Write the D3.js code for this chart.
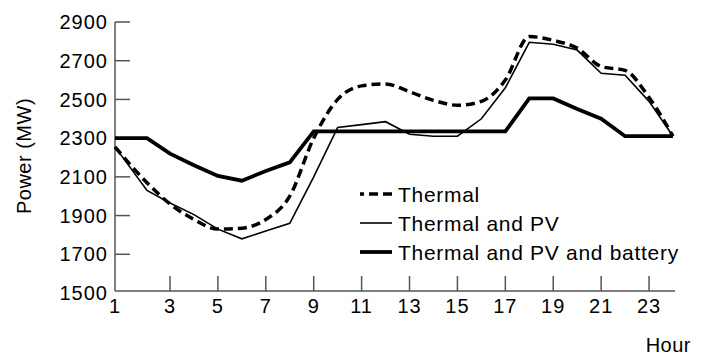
<!DOCTYPE html>
<html>
<head>
<meta charset="utf-8">
<script src="https://cdn.jsdelivr.net/npm/d3@7"></script>
<style>
  body { margin: 0; background: #fff; }
  svg { display: block; font-family: "Liberation Sans", Arial, sans-serif; }
</style>
</head>
<body>
<svg id="chart" width="706" height="358"></svg>
<script>
// Hourly power (MW)
var hours = d3.range(1, 25);
var thermal = [2255, 2070, 1960, 1880, 1830, 1835, 1880, 2000, 2300, 2500, 2570, 2580,
               2540, 2495, 2470, 2490, 2600, 2825, 2805, 2765, 2670, 2650, 2510, 2310];
var thermalPV = [2255, 2030, 1965, 1905, 1830, 1780, 1820, 1860, 2100, 2355, 2370, 2385,
                 2320, 2310, 2310, 2400, 2560, 2795, 2785, 2755, 2635, 2625, 2490, 2310];
var thermalPVBattery = [2300, 2300, 2220, 2160, 2105, 2080, 2130, 2175, 2335, 2335, 2335, 2335,
                        2335, 2335, 2335, 2335, 2335, 2505, 2505, 2450, 2400, 2310, 2310, 2310];
var xTickLabels = [1, 3, 5, 7, 9, 11, 13, 15, 17, 19, 21, 23];
var yTickLabels = [1500, 1700, 1900, 2100, 2300, 2500, 2700, 2900];
var seriesNames = ["Thermal", "Thermal and PV", "Thermal and PV and battery"];

var svg = d3.select("#chart");
var axisY = 291; // where the hour axis sits

var x = d3.scaleLinear().domain([1, 2, 3, 24]).range([115, 147, 170, 673]);
var y = d3.scaleLinear().domain([1500, 2900]).range([293, 22]);

// y axis
svg.append("line")
  .attr("x1", x(1)).attr("x2", x(1))
  .attr("y1", y(2900)).attr("y2", axisY)
  .attr("stroke", "#555").attr("stroke-width", 1.5);

svg.append("g").selectAll("line")
  .data(yTickLabels.filter(function (d) { return d > 1500; }))
  .enter().append("line")
  .attr("x1", x(1)).attr("x2", x(1) + 15)
  .attr("y1", function (d) { return y(d); })
  .attr("y2", function (d) { return y(d); })
  .attr("stroke", "#555").attr("stroke-width", 1.5);

svg.append("g").selectAll("text")
  .data(yTickLabels)
  .enter().append("text")
  .attr("x", x(1) - 7)
  .attr("y", function (d) { return y(d); })
  .attr("dy", "0.36em")
  .attr("text-anchor", "end")
  .attr("font-size", 20)
  .attr("letter-spacing", 1)
  .text(function (d) { return d; });

// x axis
svg.append("line")
  .attr("x1", x(1)).attr("x2", 675)
  .attr("y1", axisY).attr("y2", axisY)
  .attr("stroke", "#555").attr("stroke-width", 1.5);

svg.append("g").selectAll("line")
  .data(xTickLabels.filter(function (d) { return d > 1; }))
  .enter().append("line")
  .attr("x1", function (d) { return x(d); })
  .attr("x2", function (d) { return x(d); })
  .attr("y1", axisY).attr("y2", axisY - 15)
  .attr("stroke", "#555").attr("stroke-width", 1.5);

svg.append("g").selectAll("text")
  .data(xTickLabels)
  .enter().append("text")
  .attr("x", function (d) { return x(d); })
  .attr("y", 313)
  .attr("text-anchor", "middle")
  .attr("font-size", 20)
  .attr("letter-spacing", 1)
  .text(function (d) { return d; });

// axis titles
svg.append("text")
  .attr("transform", "translate(31,156) rotate(-90)")
  .attr("text-anchor", "middle")
  .attr("font-size", 20)
  .attr("letter-spacing", 0.5)
  .text("Power (MW)");

svg.append("text")
  .attr("x", 691).attr("y", 352)
  .attr("text-anchor", "end")
  .attr("font-size", 20)
  .attr("letter-spacing", 0.5)
  .text("Hour");

// lines
var smooth = d3.line()
  .x(function (d, i) { return x(hours[i]); })
  .y(function (d) { return y(d); })
  .curve(d3.curveMonotoneX);

var straight = d3.line()
  .x(function (d, i) { return x(hours[i]); })
  .y(function (d) { return y(d); });

var styles = [
  { width: 3.5, dash: "9,5" },
  { width: 1.6, dash: null },
  { width: 3.8, dash: null }
];

svg.append("path")
  .attr("d", smooth(thermal))
  .attr("fill", "none").attr("stroke", "#000")
  .attr("stroke-width", styles[0].width)
  .attr("stroke-dasharray", styles[0].dash);

svg.append("path")
  .attr("d", straight(thermalPV))
  .attr("fill", "none").attr("stroke", "#000")
  .attr("stroke-width", styles[1].width);

svg.append("path")
  .attr("d", straight(thermalPVBattery))
  .attr("fill", "none").attr("stroke", "#000")
  .attr("stroke-width", styles[2].width);

// legend
var legend = svg.append("g").attr("transform", "translate(360,194)");
seriesNames.forEach(function (name, i) {
  var row = legend.append("g").attr("transform", "translate(0," + (i * 29) + ")");
  row.append("line")
    .attr("x1", 0).attr("x2", 32)
    .attr("stroke", "#000")
    .attr("stroke-width", styles[i].width)
    .attr("stroke-dasharray", i === 0 ? "4,5,9,5,9" : null);
  row.append("text")
    .attr("x", 38).attr("dy", "0.36em")
    .attr("font-size", 21)
    .attr("letter-spacing", 0.7)
    .text(name);
});
</script>
</body>
</html>
